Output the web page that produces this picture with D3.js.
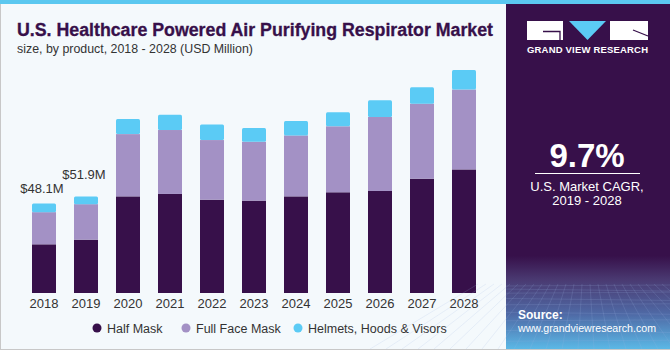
<!DOCTYPE html>
<html>
<head>
  <meta charset="UTF-8">
  <title>U.S. Healthcare PAPR Market</title>
  <script src="https://d3js.org/d3.v7.min.js"></script>
  <style>
    body {
      margin: 0;
      padding: 0;
      font-family: "Liberation Sans", Arial, sans-serif;
    }
    svg { display: block; }
    .axis text { font-size: 13px; fill: #333; }
    .axis path, .axis line { display: none; }
  </style>
</head>
<body>
  <div id="chart"></div>

  <script>
    // data (USD Million)
    const years = ["2018", "2019", "2020", "2021", "2022", "2023", "2024", "2025", "2026", "2027", "2028"];
    const halfMask     = [26.2, 28.7, 52.0, 53.3, 50.2, 49.7, 52.0, 54.2, 54.9, 61.5, 66.5];
    const fullFaceMask = [17.3, 19.1, 33.5, 34.4, 32.1, 31.7, 32.8, 35.5, 39.8, 40.4, 43.0];
    const helmets      = [4.6, 4.1, 8.1, 8.2, 8.4, 7.4, 7.7, 7.5, 9.0, 8.8, 10.5];
    const seriesNames = ["Half Mask", "Full Face Mask", "Helmets, Hoods & Visors"];
    const seriesColors = ["#37104a", "#a391c5", "#5bcbf5"];
    const valueLabels = [{ year: "2018", text: "$48.1M", lift: 11 }, { year: "2019", text: "$51.9M", lift: 18 }];

    const width = 670, height = 350;
    const svg = d3.select("#chart").append("svg")
      .attr("width", width)
      .attr("height", height);

    // background
    svg.append("rect").attr("width", width).attr("height", height).attr("fill", "#f4f9fc");
    svg.append("rect").attr("x", 0.5).attr("y", 0).attr("width", width - 1).attr("height", height - 0.5)
      .attr("fill", "none").attr("stroke", "#c8c8c8");
    svg.append("rect").attr("width", width).attr("height", 4).attr("fill", "#5bc8f0");

    // titles
    svg.append("text")
      .attr("x", 17).attr("y", 36)
      .attr("font-size", 17.5).attr("font-weight", "bold").attr("fill", "#37104a")
      .attr("stroke", "#37104a").attr("stroke-width", 0.3)
      .attr("textLength", 476).attr("lengthAdjust", "spacingAndGlyphs")
      .text("U.S. Healthcare Powered Air Purifying Respirator Market");
    svg.append("text")
      .attr("x", 17).attr("y", 53)
      .attr("font-size", 13).attr("fill", "#333")
      .attr("textLength", 236).attr("lengthAdjust", "spacingAndGlyphs")
      .text("size, by product, 2018 - 2028 (USD Million)");

    // chart
    const table = years.map((y, i) => ({ year: y, half: halfMask[i], full: fullFaceMask[i], helm: helmets[i] }));
    const keys = ["half", "full", "helm"];
    const stacked = d3.stack().keys(keys)(table);

    const x = d3.scaleBand()
      .domain(years)
      .range([23, 485])
      .paddingInner(0.4286)
      .paddingOuter(0.2143);

    const y = d3.scaleLinear()
      .domain([0, 120])
      .range([293, 70]);

    stacked.forEach((layer, li) => {
      svg.append("g")
        .selectAll("rect")
        .data(layer)
        .join("rect")
        .attr("x", d => x(d.data.year))
        .attr("width", x.bandwidth())
        .attr("y", d => y(d[1]))
        .attr("height", d => y(d[0]) - y(d[1]))
        .attr("rx", li === 2 ? 1.5 : 0)
        .attr("fill", seriesColors[li]);
    });

    svg.append("g")
      .attr("class", "axis")
      .attr("transform", "translate(0,293)")
      .call(d3.axisBottom(x).tickSize(0).tickPadding(6));

    const totals = new Map(table.map(d => [d.year, d.half + d.full + d.helm]));
    svg.append("g")
      .selectAll("text")
      .data(valueLabels)
      .join("text")
      .attr("x", d => x(d.year) + x.bandwidth() / 2 - 2)
      .attr("y", d => y(totals.get(d.year)) - d.lift)
      .attr("text-anchor", "middle")
      .attr("font-size", 13)
      .attr("fill", "#333")
      .text(d => d.text);

    // legend
    const legendX = [97, 186, 298];
    const legend = svg.append("g")
      .selectAll("g")
      .data(seriesNames)
      .join("g")
      .attr("transform", (d, i) => `translate(${legendX[i]},328)`);
    legend.append("circle").attr("r", 4.5).attr("fill", (d, i) => seriesColors[i]);
    legend.append("text")
      .attr("x", 10).attr("y", 4.5)
      .attr("font-size", 12.5).attr("fill", "#333")
      .text(d => d);

    // right panel
    const px = 506, pw = width - px;
    const defs = svg.append("defs");
    const grad = defs.append("linearGradient").attr("id", "pgrad")
      .attr("x1", 0).attr("y1", 0).attr("x2", 0).attr("y2", 1);
    grad.append("stop").attr("offset", "0").attr("stop-color", "#37104a");
    grad.append("stop").attr("offset", "0.73").attr("stop-color", "#37104a");
    grad.append("stop").attr("offset", "0.8").attr("stop-color", "#4a3a72");
    grad.append("stop").attr("offset", "0.9").attr("stop-color", "#4f6aa6");
    grad.append("stop").attr("offset", "1").attr("stop-color", "#5bb8e6");

    svg.append("rect").attr("x", px).attr("y", 4).attr("width", pw).attr("height", height - 5)
      .attr("fill", "url(#pgrad)");

    // faint perspective grid at bottom of panel
    const gridG = svg.append("g").attr("stroke", "#9fb6e0").attr("stroke-opacity", 0.25).attr("stroke-width", 0.7);
    d3.range(0, 12).forEach(i => {
      const yy = 286 + i * i * 0.55 + i * 2.5;
      if (yy < 349) gridG.append("line").attr("x1", px).attr("x2", width).attr("y1", yy).attr("y2", yy + (i % 2 ? 2 : -1));
    });
    d3.range(-6, 18).forEach(i => {
      const xTop = px + 20 + i * 8;
      const xBot = px + 20 + i * 16 - 60;
      gridG.append("line").attr("x1", xTop).attr("y1", 284).attr("x2", xBot).attr("y2", 349);
    });

    // logo
    const logo = svg.append("g");
    logo.append("rect").attr("x", 527).attr("y", 21).attr("width", 36).attr("height", 19).attr("fill", "#fff");
    logo.append("path").attr("d", "M543,31.5 H560 V40").attr("stroke", "#37104a").attr("stroke-width", 1.3).attr("fill", "none");
    logo.append("path").attr("d", "M569,21 L606,21 L587.5,40 Z").attr("fill", "#5bcbf5");
    logo.append("rect").attr("x", 610).attr("y", 21).attr("width", 38).attr("height", 19).attr("fill", "#fff");
    logo.append("path").attr("d", "M633,30 L648,36").attr("stroke", "#37104a").attr("stroke-width", 1.3).attr("fill", "none");
    svg.append("text")
      .attr("x", 527).attr("y", 53)
      .attr("font-size", 9.5).attr("font-weight", "bold").attr("fill", "#fff")
      .attr("textLength", 121).attr("lengthAdjust", "spacing")
      .text("GRAND VIEW RESEARCH");

    // CAGR
    const cx = 587;
    svg.append("text")
      .attr("x", cx).attr("y", 167)
      .attr("text-anchor", "middle")
      .attr("font-size", 33).attr("font-weight", "bold").attr("fill", "#fff")
      .text("9.7%");
    svg.append("line").attr("x1", 535).attr("x2", 640).attr("y1", 173.5).attr("y2", 173.5)
      .attr("stroke", "#fff").attr("stroke-width", 1);
    svg.append("text")
      .attr("x", cx).attr("y", 191)
      .attr("text-anchor", "middle").attr("font-size", 13).attr("fill", "#fff")
      .text("U.S. Market CAGR,");
    svg.append("text")
      .attr("x", cx).attr("y", 205)
      .attr("text-anchor", "middle").attr("font-size", 13).attr("fill", "#fff")
      .text("2019 - 2028");

    // source
    svg.append("text")
      .attr("x", 518).attr("y", 319)
      .attr("font-size", 12).attr("font-weight", "bold").attr("fill", "#fff")
      .text("Source:");
    svg.append("text")
      .attr("x", 518).attr("y", 332)
      .attr("font-size", 10.8).attr("fill", "#fff")
      .attr("textLength", 138).attr("lengthAdjust", "spacingAndGlyphs")
      .text("www.grandviewresearch.com");
  </script>
</body>
</html>
